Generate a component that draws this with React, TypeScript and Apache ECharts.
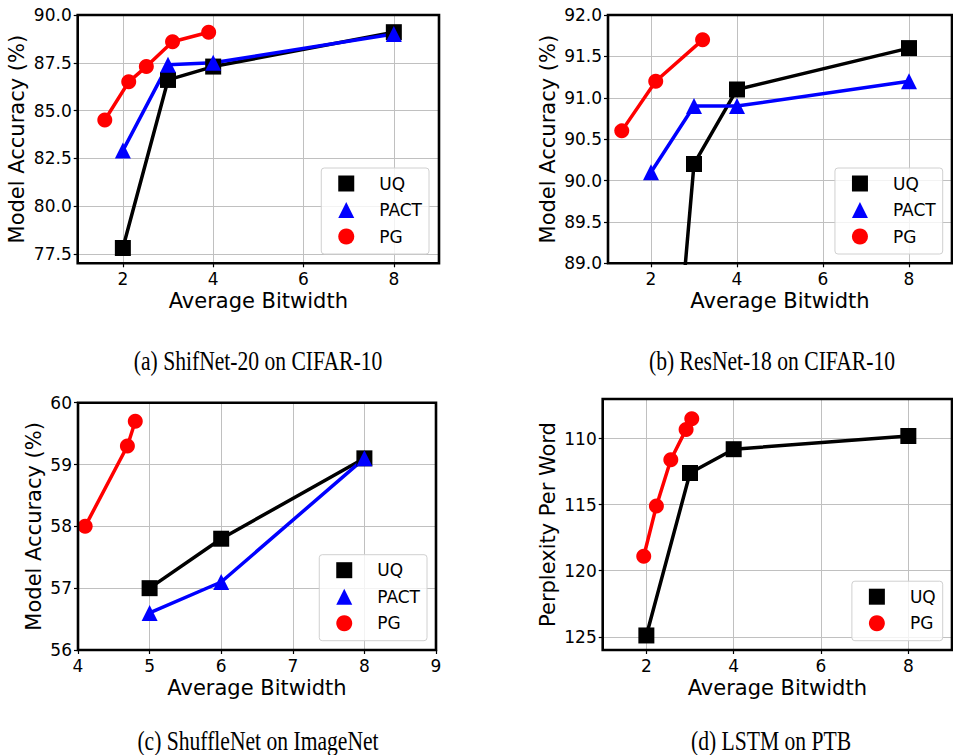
import React, { useEffect, useRef } from "react";
import * as echarts from "echarts";

// ---------- data ----------
const SERIES_NAMES = ["UQ", "PACT", "PG"];

// (a) ShifNet-20 on CIFAR-10
const A_UQ_X = [2, 3, 4, 8];
const A_UQ_Y = [77.8, 86.6, 87.3, 89.1];
const A_PACT_X = [2, 3, 4, 8];
const A_PACT_Y = [82.9, 87.4, 87.5, 89.0];
const A_PG_X = [1.6, 2.13, 2.52, 3.1, 3.9];
const A_PG_Y = [84.5, 86.5, 87.3, 88.6, 89.1];
const A_X_TICKS = [2, 4, 6, 8];
const A_Y_TICKS = [77.5, 80, 82.5, 85, 87.5, 90];

// (b) ResNet-18 on CIFAR-10
const B_UQ_X = [2, 3, 4, 8];
const B_UQ_Y = [84.2, 90.2, 91.1, 91.6];
const B_PACT_X = [2, 3, 4, 8];
const B_PACT_Y = [90.1, 90.9, 90.9, 91.2];
const B_PG_X = [1.32, 2.11, 3.2];
const B_PG_Y = [90.6, 91.2, 91.7];
const B_X_TICKS = [2, 4, 6, 8];
const B_Y_TICKS = [89, 89.5, 90, 90.5, 91, 91.5, 92];

// (c) ShuffleNet on ImageNet
const C_UQ_X = [5, 6, 8];
const C_UQ_Y = [57.0, 57.8, 59.1];
const C_PACT_X = [5, 6, 8];
const C_PACT_Y = [56.6, 57.1, 59.1];
const C_PG_X = [4.1, 4.69, 4.8];
const C_PG_Y = [58.0, 59.3, 59.7];
const C_X_TICKS = [4, 5, 6, 7, 8, 9];
const C_Y_TICKS = [56, 57, 58, 59, 60];

// (d) LSTM on PTB
const D_UQ_X = [2, 3, 4, 8];
const D_UQ_Y = [124.9, 112.6, 110.8, 109.8];
const D_PG_X = [1.94, 2.23, 2.56, 2.91, 3.04];
const D_PG_Y = [118.9, 115.1, 111.6, 109.3, 108.5];
const D_X_TICKS = [2, 4, 6, 8];
const D_Y_TICKS = [110, 115, 120, 125];

const CAPTIONS = [
  "(a) ShifNet-20 on CIFAR-10",
  "(b) ResNet-18 on CIFAR-10",
  "(c) ShuffleNet on ImageNet",
  "(d) LSTM on PTB",
];

// ---------- layout / style ----------
const FONT = "DejaVu Sans";
const GRIDS = [
  { left: 77.7, top: 15, width: 361.3, height: 248.3 },
  { left: 608, top: 15, width: 344, height: 248.3 },
  { left: 78, top: 402.7, width: 358, height: 247.3 },
  { left: 602.7, top: 399, width: 349.3, height: 251 },
];
const COLORS: Record<string, string> = { UQ: "#000000", PACT: "#0000ff", PG: "#ff0000" };
const SYMBOLS: Record<string, string> = { UQ: "rect", PACT: "triangle", PG: "circle" };
const SIZES: Record<string, number> = { UQ: 16, PACT: 16, PG: 15 };

function pairs(xs: number[], ys: number[]) {
  return xs.map((x, i) => [x, ys[i]]);
}

function xAxis(grid: number, min: number, max: number, ticks: number[]) {
  return {
    type: "value",
    gridIndex: grid,
    min,
    max,
    name: "Average Bitwidth",
    nameLocation: "middle",
    nameGap: 27,
    nameTextStyle: { fontFamily: FONT, fontSize: 21, color: "#000" },
    axisLine: { show: false },
    axisTick: { show: true, customValues: ticks, length: 4, lineStyle: { color: "#000", width: 1.2 } },
    axisLabel: { customValues: ticks, fontFamily: FONT, fontSize: 17, color: "#000", margin: 7 },
    splitLine: { show: true, lineStyle: { color: "#c0c0c0", width: 1 } },
  };
}

function yAxis(
  grid: number,
  min: number,
  max: number,
  ticks: number[],
  decimals: number,
  name: string,
  nameGap: number,
  inverse = false
) {
  return {
    type: "value",
    gridIndex: grid,
    min,
    max,
    inverse,
    name,
    nameLocation: "middle",
    nameGap,
    nameTextStyle: { fontFamily: FONT, fontSize: 21, color: "#000" },
    axisLine: { show: false },
    axisTick: { show: true, customValues: ticks, length: 4, lineStyle: { color: "#000", width: 1.2 } },
    axisLabel: {
      customValues: ticks,
      fontFamily: FONT,
      fontSize: 17,
      color: "#000",
      margin: 6,
      formatter: (v: number) => v.toFixed(decimals),
    },
    splitLine: { show: true, lineStyle: { color: "#c0c0c0", width: 1 } },
  };
}

function line(name: string, grid: number, xs: number[], ys: number[]) {
  return {
    type: "line",
    name,
    xAxisIndex: grid,
    yAxisIndex: grid,
    data: pairs(xs, ys),
    symbol: SYMBOLS[name],
    symbolSize: SIZES[name],
    showAllSymbol: true,
    clip: true,
    lineStyle: { color: COLORS[name], width: 3.5 },
    itemStyle: { color: COLORS[name] },
    emphasis: { disabled: true },
  };
}

function legend(names: string[], right: number, bottom: number) {
  return {
    orient: "vertical",
    right,
    bottom,
    selectedMode: false,
    data: names.map((n) => ({ name: n, icon: SYMBOLS[n], itemStyle: { color: COLORS[n] } })),
    itemWidth: 16,
    itemHeight: 16,
    itemGap: 9.5,
    padding: [7, 7, 9, 17],
    backgroundColor: "rgba(255,255,255,0.8)",
    borderColor: "#d0d0d0",
    borderWidth: 1,
    borderRadius: 3,
    textStyle: {
      fontFamily: FONT,
      fontSize: 17,
      color: "#000",
      lineHeight: 16,
      padding: [0, 0, 0, 20],
    },
  };
}

export default function App() {
  const ref = useRef<HTMLDivElement>(null);
  useEffect(() => {
    document.body.style.margin = "0";
    if (!ref.current) return;
    const chart = echarts.init(ref.current, undefined, { renderer: "svg" });
    const frames = GRIDS.map((g) => ({
      type: "rect",
      z: 100,
      silent: true,
      shape: { x: g.left, y: g.top, width: g.width, height: g.height },
      style: { fill: "none", stroke: "#000", lineWidth: 2.6 },
    }));
    const captionPos = [
      { x: 258, y: 361 },
      { x: 772, y: 361 },
      { x: 258, y: 741 },
      { x: 771, y: 741 },
    ];
    const captions = CAPTIONS.map((t, i) => ({
      type: "text",
      x: captionPos[i].x,
      y: captionPos[i].y,
      scaleX: 0.8,
      silent: true,
      style: {
        text: t,
        fontFamily: "Liberation Serif",
        fontSize: 27,
        fill: "#000",
        textAlign: "center",
        textVerticalAlign: "middle",
      },
    }));
    chart.setOption({
      animation: false,
      backgroundColor: "#ffffff",
      grid: GRIDS.map((g) => ({ ...g, show: false, containLabel: false })),
      xAxis: [
        xAxis(0, 1, 9, A_X_TICKS),
        xAxis(1, 1, 9, B_X_TICKS),
        xAxis(2, 4, 9, C_X_TICKS),
        xAxis(3, 1, 9, D_X_TICKS),
      ],
      yAxis: [
        yAxis(0, 77, 90, A_Y_TICKS, 1, "Model Accuracy (%)", 50),
        yAxis(1, 89, 92, B_Y_TICKS, 1, "Model Accuracy (%)", 50),
        yAxis(2, 56, 60, C_Y_TICKS, 0, "Model Accuracy (%)", 34),
        yAxis(3, 107, 126, D_Y_TICKS, 0, "Perplexity Per Word", 44, true),
      ],
      legend: [
        legend(SERIES_NAMES, 524, 501),
        legend(SERIES_NAMES, 10.3, 501),
        legend(SERIES_NAMES, 526, 114.3),
        legend(["UQ", "PG"], 10.3, 114.3),
      ],
      series: [
        line("UQ", 0, A_UQ_X, A_UQ_Y),
        line("PACT", 0, A_PACT_X, A_PACT_Y),
        line("PG", 0, A_PG_X, A_PG_Y),
        line("UQ", 1, B_UQ_X, B_UQ_Y),
        line("PACT", 1, B_PACT_X, B_PACT_Y),
        line("PG", 1, B_PG_X, B_PG_Y),
        line("UQ", 2, C_UQ_X, C_UQ_Y),
        line("PACT", 2, C_PACT_X, C_PACT_Y),
        line("PG", 2, C_PG_X, C_PG_Y),
        line("UQ", 3, D_UQ_X, D_UQ_Y),
        line("PG", 3, D_PG_X, D_PG_Y),
      ],
      graphic: [...frames, ...captions],
    });
    return () => chart.dispose();
  }, []);
  return <div ref={ref} style={{ width: 953, height: 755 }} />;
}
